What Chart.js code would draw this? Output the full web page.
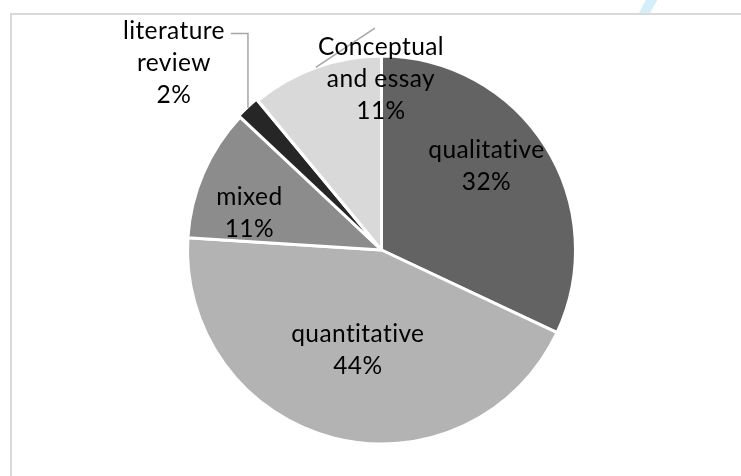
<!DOCTYPE html>
<html>
<head>
<meta charset="utf-8">
<script src="https://cdn.jsdelivr.net/npm/chart.js@4.4.1/dist/chart.umd.min.js"></script>
<style>
  html, body { margin: 0; padding: 0; background: #ffffff; }
  #wrap { width: 741px; height: 476px; position: relative; }
</style>
</head>
<body>
<div id="wrap"><canvas id="c" width="741" height="476"></canvas></div>
<script>
// Research approaches, share of studies (%)
const categories = ['qualitative', 'quantitative', 'mixed', 'literature review', 'Conceptual and essay'];
const shares = [32, 44, 11, 2, 11];
const labelLines = [['qualitative'], ['quantitative'], ['mixed'], ['literature', 'review'], ['Conceptual', 'and essay']];

// Presentation
const sliceColors = ['#636363', '#b3b3b3', '#8c8c8c', '#262626', '#d9d9d9'];
const sliceOffsets = [0, 0, 0, 4, 0];
// label block centres, relative to the pie centre, in units of the radius
const labelOffsets = [[0.541, -0.430], [-0.122, 0.518], [-0.681, -0.189], [-1.070, -0.961], [-0.003, -0.881]];
const labelFont = '24.5px Lato, "Open Sans", sans-serif';
const lineGap = 32;

// frame around the figure plus the faint mark above it
const framePlugin = {
  id: 'frame',
  beforeDraw(chart) {
    const ctx = chart.ctx;
    ctx.save();
    ctx.beginPath();
    ctx.rect(0, 0, chart.width, 13);
    ctx.clip();
    ctx.strokeStyle = '#d4effa';
    ctx.lineWidth = 10;
    ctx.beginPath();
    ctx.arc(752, 62, 118, Math.PI, Math.PI * 1.5);
    ctx.stroke();
    ctx.restore();

    ctx.save();
    ctx.strokeStyle = '#d9d9d9';
    ctx.lineWidth = 2;
    ctx.beginPath();
    ctx.moveTo(11, chart.height);
    ctx.lineTo(11, 14);
    ctx.lineTo(chart.width, 14);
    ctx.stroke();
    ctx.restore();
  }
};

// category + percentage labels, with leader lines for the two small slices
const labelPlugin = {
  id: 'sliceLabels',
  afterDatasetsDraw(chart) {
    const ctx = chart.ctx;
    const meta = chart.getDatasetMeta(0);
    const total = shares.reduce((a, b) => a + b, 0);
    ctx.save();
    ctx.font = labelFont;
    if ('letterSpacing' in ctx) ctx.letterSpacing = '0.4px';
    ctx.textAlign = 'center';
    ctx.textBaseline = 'middle';

    meta.data.forEach((arc, i) => {
      const p = arc.getProps(['x', 'y', 'startAngle', 'endAngle', 'outerRadius'], true);
      const r = p.outerRadius;
      const lines = labelLines[i].concat([Math.round(shares[i] / total * 100) + '%']);
      const cx = p.x + labelOffsets[i][0] * r;
      const cy = p.y + labelOffsets[i][1] * r;
      const top = cy - (lines.length - 1) * lineGap / 2;
      const mid = (p.startAngle + p.endAngle) / 2;
      const edgeR = r + sliceOffsets[i];
      const ex = p.x + Math.cos(mid) * edgeR;
      const ey = p.y + Math.sin(mid) * edgeR;

      ctx.strokeStyle = '#a6a6a6';
      ctx.lineWidth = 1.5;
      if (i === 3) {
        const w = ctx.measureText(lines[0]).width;
        const lineY = top + 2;
        ctx.beginPath();
        ctx.moveTo(ex + 2, ey + 2);
        ctx.lineTo(ex + 2, lineY);
        ctx.lineTo(cx + w / 2 + 6, lineY);
        ctx.stroke();
      } else if (i === 4) {
        ctx.beginPath();
        ctx.moveTo(ex, ey);
        ctx.lineTo(cx - 6, cy - 51);
        ctx.stroke();
      }

      ctx.fillStyle = '#000000';
      lines.forEach((t, k) => ctx.fillText(t, cx, top + k * lineGap));
    });
    ctx.restore();
  }
};

new Chart(document.getElementById('c'), {
  type: 'pie',
  data: {
    labels: categories,
    datasets: [{
      data: shares,
      backgroundColor: sliceColors,
      borderColor: '#ffffff',
      borderWidth: 3,
      offset: sliceOffsets,
      hoverOffset: 0
    }]
  },
  options: {
    responsive: false,
    animation: false,
    events: [],
    radius: 194,
    layout: { padding: { left: 184, right: 162, top: 52.5, bottom: 28.5 } },
    plugins: {
      legend: { display: false },
      tooltip: { enabled: false },
      title: { display: false }
    }
  },
  plugins: [framePlugin, labelPlugin]
});
</script>
</body>
</html>
